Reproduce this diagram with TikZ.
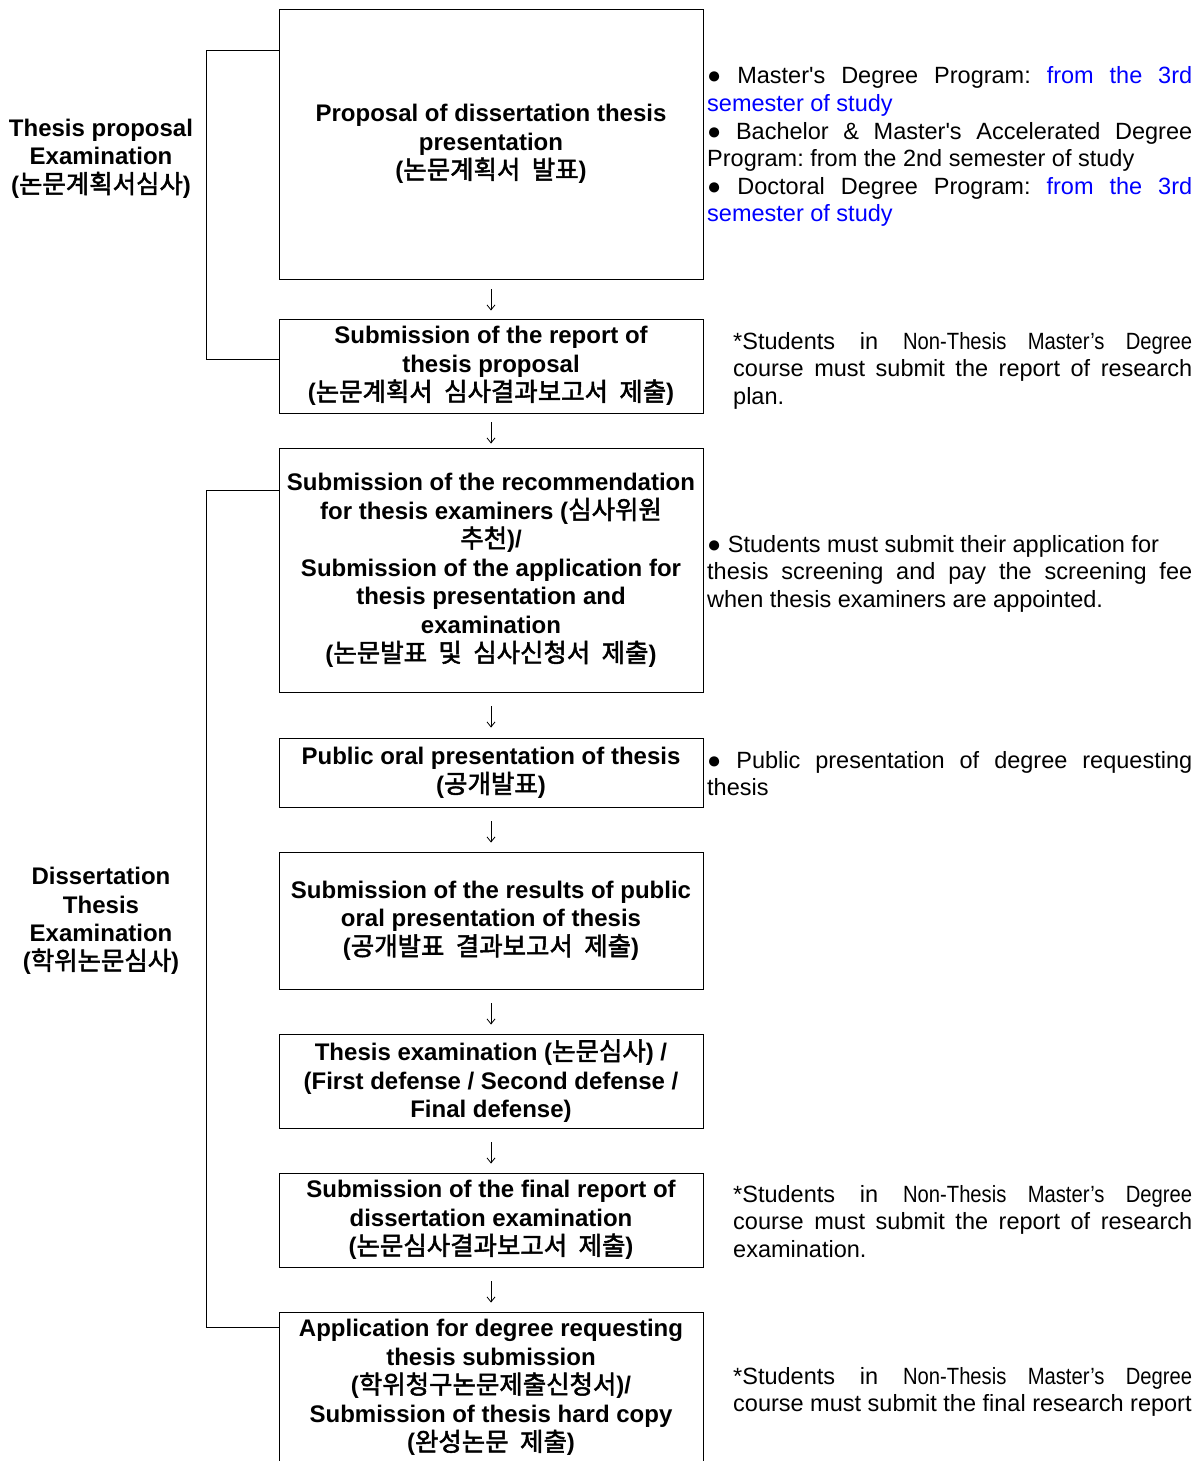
\documentclass[tikz,border=0pt]{standalone}
\usepackage{fontspec}
\setmainfont{Liberation Sans}
\newfontfamily\kr{Noto Sans CJK KR}[Scale=1.06,WordSpace=2,BoldFont={Noto Sans CJK KR},BoldFeatures={FakeBold=2}]
\newfontfamily\narrowfont{Liberation Sans}[FakeStretch=0.86]
\usetikzlibrary{arrows.meta,calc}
\definecolor{noteblue}{RGB}{0,0,255}
\frenchspacing
\begin{document}
\begin{tikzpicture}[x=1pt,y=-1pt,
  stepbox/.style={draw=black,line width=0.9pt,inner sep=0pt,minimum width=424pt,align=center,
    font=\bfseries\fontsize{24}{28.6}\selectfont},
  sidelabel/.style={inner sep=0pt,align=center,font=\bfseries\fontsize{24}{28.4}\selectfont},
  note/.style={inner sep=0pt,anchor=base west,font=\fontsize{23.5}{27.6}\selectfont},
  flow/.style={line width=0.8pt,-{Straight Barb[length=5pt,width=8pt]}},
  bracket/.style={line width=0.9pt}]
\useasboundingbox (0,0) rectangle (1204,1461);

\node[stepbox,minimum height=270pt] (b1) at (491,144) {Proposal of dissertation thesis\\ presentation\\ ({\kr 논문계획서 발표})};
\node[stepbox,minimum height=94pt] (b2) at (491,366) {Submission of the report of\\ thesis proposal\\ ({\kr 논문계획서 심사결과보고서 제출})};
\node[stepbox,minimum height=244pt] (b3) at (491,570) {Submission of the recommendation\\ for thesis examiners ({\kr 심사위원}\\ {\kr 추천})/\\ Submission of the application for\\ thesis presentation and\\ examination\\ ({\kr 논문발표 및 심사신청서 제출})};
\node[stepbox,minimum height=69pt] (b4) at (491,772.5) {Public oral presentation of thesis\\ ({\kr 공개발표})};
\node[stepbox,minimum height=137pt] (b5) at (491,920.5) {Submission of the results of public\\ oral presentation of thesis\\ ({\kr 공개발표 결과보고서 제출})};
\node[stepbox,minimum height=94pt] (b6) at (491,1081) {Thesis examination ({\kr 논문심사}) /\\ (First defense / Second defense /\\ Final defense)};
\node[stepbox,minimum height=94pt] (b7) at (491,1220) {Submission of the final report of\\ dissertation examination\\ ({\kr 논문심사결과보고서 제출})};
\node[stepbox,minimum height=151pt] (b8) at (491,1387.5) {Application for degree requesting\\ thesis submission\\ ({\kr 학위청구논문제출신청서})/\\ Submission of thesis hard copy\\ ({\kr 완성논문 제출})};

\draw[flow,shorten <=10pt,shorten >=8pt] (b1) -- (b2);
\draw[flow,shorten <=9pt,shorten >=4pt] (b2) -- (b3);
\draw[flow,shorten <=14pt,shorten >=10pt] (b3) -- (b4);
\draw[flow,shorten <=14pt,shorten >=9pt] (b4) -- (b5);
\draw[flow,shorten <=14pt,shorten >=9pt] (b5) -- (b6);
\draw[flow,shorten <=14pt,shorten >=9pt] (b6) -- (b7);
\draw[flow,shorten <=14pt,shorten >=9pt] (b7) -- (b8);

\draw[bracket] ([yshift=-42pt]b1.north west) -- ++(-72pt,0) |- ([yshift=-41pt]b2.north west);
\draw[bracket] ([yshift=-43pt]b3.north west) -- ++(-72pt,0) |- ([yshift=-16pt]b8.north west);

\node[sidelabel] (l1) at (101,158.5) {Thesis proposal\\ Examination\\ ({\kr 논문계획서심사})};
\node[sidelabel] (l2) at (101,921) {Dissertation\\ Thesis\\ Examination\\ ({\kr 학위논문심사})};

\node[note] (n1) at (707,84) {\parbox[t]{485pt}{● Master\textquotesingle s Degree Program: \textcolor{noteblue}{from the 3rd}\linebreak \textcolor{noteblue}{semester of study}\par
● Bachelor \& Master\textquotesingle s Accelerated Degree\linebreak Program: from the 2nd semester of study\par
● Doctoral Degree Program: \textcolor{noteblue}{from the 3rd}\linebreak \textcolor{noteblue}{semester of study}}};
\node[note] (n2) at (733,349) {\parbox[t]{459pt}{*Students in {\narrowfont Non-Thesis Master’s Degree}\linebreak course must submit the report of research\linebreak plan.}};
\node[note] (n3) at (707,552) {\parbox[t]{485pt}{● Students must submit their application for\newline thesis screening and pay the screening fee\linebreak when thesis examiners are appointed.}};
\node[note] (n4) at (707,768) {\parbox[t]{485pt}{● Public presentation of degree requesting\linebreak thesis}};
\node[note] (n5) at (733,1202) {\parbox[t]{459pt}{*Students in {\narrowfont Non-Thesis Master’s Degree}\linebreak course must submit the report of research\linebreak examination.}};
\node[note] (n6) at (733,1384) {\parbox[t]{459pt}{*Students in {\narrowfont Non-Thesis Master’s Degree}\linebreak course must submit the final research report}};
\end{tikzpicture}
\end{document}
